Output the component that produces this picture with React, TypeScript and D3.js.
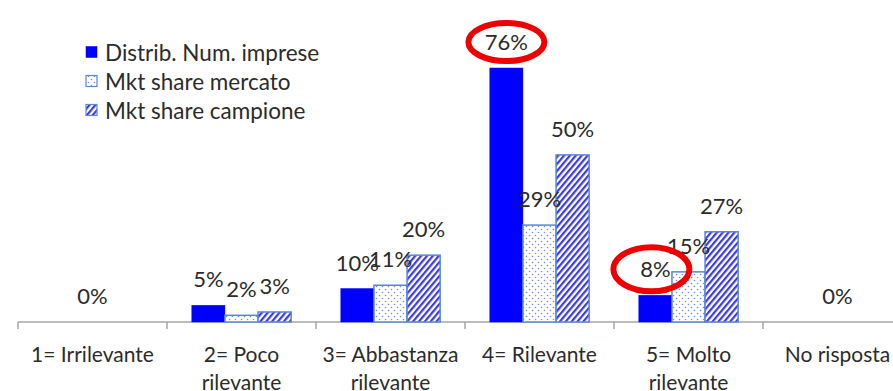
import React from "react";
import * as d3 from "d3";

const categories = [
  ["1= Irrilevante"],
  ["2= Poco", "rilevante"],
  ["3= Abbastanza", "rilevante"],
  ["4= Rilevante"],
  ["5= Molto", "rilevante"],
  ["No risposta"],
];
const seriesNames = ["Distrib. Num. imprese", "Mkt share mercato", "Mkt share campione"];
const distribNum = [0, 5, 10, 76, 8, 0];
const mktMercato = [0, 2, 11, 29, 15, 0];
const mktCampione = [0, 3, 20, 50, 27, 0];
const seriesValues = [distribNum, mktMercato, mktCampione];
const highlighted = [
  { cat: 3, series: 0 },
  { cat: 4, series: 0 },
];

const W = 893;
const H = 391;
const FONT = "Lato, 'Open Sans', sans-serif";
const TXT = "#2b2b2b";

export default function App() {
  const baseY = 322;
  const x0 = d3
    .scaleBand<number>()
    .domain(categories.map((_, i) => i))
    .range([18, 18 + 149 * 6])
    .padding(0);
  const bw = x0.bandwidth();
  const x1 = d3
    .scaleBand<number>()
    .domain([0, 1, 2])
    .range([bw / 6, (bw * 5) / 6])
    .padding(0);
  const y = d3.scaleLinear().domain([0, 80]).range([baseY, baseY - 80 * 3.342]);

  const fills = ["#0000ff", "url(#dots)", "url(#hatch)"];
  const strokes = ["#0000ff", "#5b86d6", "#5b86d6"];

  return (
    <svg width={W} height={H} style={{ position: "absolute", left: 0, top: 0 }} fontFamily={FONT}>
      <defs>
        <pattern id="dots" width="6" height="6" patternUnits="userSpaceOnUse">
          <rect width="6" height="6" fill="#ffffff" />
          <circle cx="1.5" cy="1.5" r="0.8" fill="#6b8ee8" />
          <circle cx="4.5" cy="4.5" r="0.8" fill="#6b8ee8" />
        </pattern>
        <pattern id="hatch" width="4.5" height="4.5" patternUnits="userSpaceOnUse" patternTransform="rotate(40)">
          <rect width="4.5" height="4.5" fill="#ffffff" />
          <rect x="0" y="0" width="2.2" height="4.5" fill="#3a3ae0" />
        </pattern>
      </defs>
      <rect width={W} height={H} fill="#ffffff" />

      {/* axis */}
      <line x1={18} x2={W} y1={baseY} y2={baseY} stroke="#a6a6a6" strokeWidth={1.5} />
      {d3.range(0, 7).map((i) => {
        const xx = 18 + bw * i;
        return <line key={i} x1={xx} x2={xx} y1={baseY} y2={baseY + 7} stroke="#a6a6a6" strokeWidth={1.5} />;
      })}

      {/* bars */}
      {categories.map((_, ci) =>
        seriesValues.map((vals, si) => {
          const v = vals[ci];
          if (v <= 0) return null;
          const bx = (x0(ci) as number) + (x1(si) as number);
          return (
            <rect
              key={`${ci}-${si}`}
              x={bx}
              y={y(v)}
              width={x1.bandwidth()}
              height={baseY - y(v)}
              fill={fills[si]}
              stroke={strokes[si]}
              strokeWidth={si === 0 ? 0.5 : 1.5}
            />
          );
        })
      )}

      {/* labels */}
      {categories.map((_, ci) =>
        seriesValues.map((vals, si) => {
          const v = vals[ci];
          if (v <= 0 && si !== 1) return null;
          const cx = (x0(ci) as number) + (x1(si) as number) + x1.bandwidth() / 2;
          return (
            <text key={`l${ci}-${si}`} x={cx} y={y(v) - 18} textAnchor="middle" fontSize={22} fill={TXT}>
              {v}%
            </text>
          );
        })
      )}

      {/* category labels */}
      {categories.map((lines, ci) => {
        const cx = (x0(ci) as number) + bw / 2;
        return (
          <text key={`c${ci}`} x={cx} y={362} textAnchor="middle" fontSize={21} fill={TXT}>
            {lines.map((ln, k) => (
              <tspan key={k} x={cx} dy={k === 0 ? 0 : 28}>
                {ln}
              </tspan>
            ))}
          </text>
        );
      })}

      {/* highlight ellipses */}
      {highlighted.map((h, k) => {
        const v = seriesValues[h.series][h.cat];
        const cx = (x0(h.cat) as number) + (x1(h.series) as number) + x1.bandwidth() / 2;
        const cy = y(v) - 26;
        return (
          <ellipse
            key={`e${k}`}
            cx={cx - (k === 1 ? 4 : 0)}
            cy={cy}
            rx={38}
            ry={k === 1 ? 22 : 19}
            fill="none"
            stroke="#ee0000"
            strokeWidth={6}
          />
        );
      })}

      {/* legend */}
      {seriesNames.map((name, i) => {
        const ly = 52.5 + i * 29;
        return (
          <g key={`lg${i}`}>
            <rect
              x={86}
              y={ly - 6}
              width={11}
              height={11}
              fill={fills[i]}
              stroke={strokes[i]}
              strokeWidth={i === 0 ? 0.5 : 1.2}
            />
            <text x={105} y={ly + 8} fontSize={22.5} fill={TXT}>
              {name}
            </text>
          </g>
        );
      })}
    </svg>
  );
}
